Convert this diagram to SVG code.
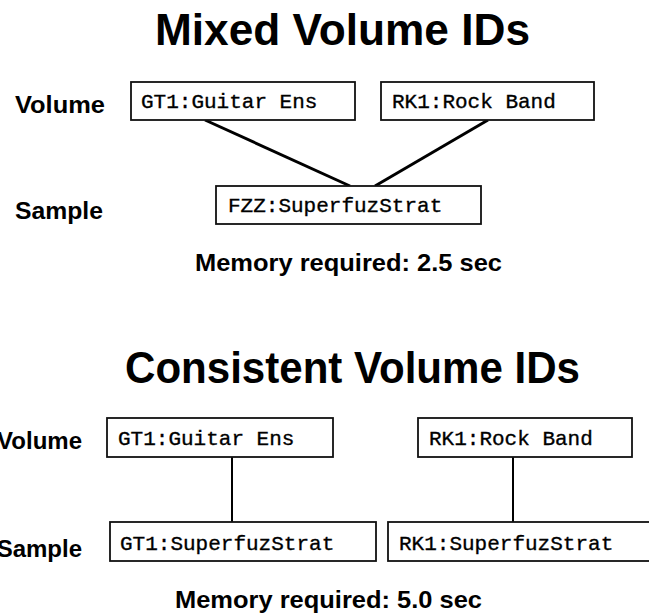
<svg xmlns="http://www.w3.org/2000/svg" width="649" height="616" viewBox="0 0 649 616">
<style>
.title{font-family:"Liberation Sans",Arial,sans-serif;font-weight:bold;font-size:44px;fill:#000}
.lbl{font-family:"Liberation Sans",Arial,sans-serif;font-weight:bold;font-size:24px;fill:#000}
.box{fill:#fff;stroke:#111;stroke-width:1.8}
.bt{font-family:"Liberation Mono","Courier New",monospace;font-size:21px;fill:#000;stroke:#000;stroke-width:0.35}
.con{stroke:#000;fill:none}
</style>
<rect width="649" height="616" fill="#fff"/>
<text class="title" x="155" y="45" textLength="375" lengthAdjust="spacingAndGlyphs">Mixed Volume IDs</text>
<text class="lbl" x="15" y="113" textLength="90" lengthAdjust="spacingAndGlyphs">Volume</text>
<text class="lbl" x="15" y="219" textLength="88" lengthAdjust="spacingAndGlyphs">Sample</text>
<g id="connectors">
<line class="con" x1="205" y1="120" x2="350" y2="186" stroke-width="3"/>
<line class="con" x1="488" y1="120" x2="375" y2="186" stroke-width="3"/>
<line class="con" x1="232" y1="457" x2="232" y2="522" stroke-width="2"/>
<line class="con" x1="513" y1="457" x2="513" y2="522" stroke-width="2"/>
</g>
<g id="m-gt1">
<rect class="box" x="131" y="82" width="224" height="38"/>
<text class="bt" x="141" y="108">GT1:Guitar Ens</text>
</g>
<g id="m-rk1">
<rect class="box" x="381" y="82" width="213" height="38"/>
<text class="bt" x="392" y="108">RK1:Rock Band</text>
</g>
<g id="m-fzz">
<rect class="box" x="216" y="186" width="265" height="38"/>
<text class="bt" x="228" y="212">FZZ:SuperfuzStrat</text>
</g>
<text class="lbl" x="195" y="271" textLength="307" lengthAdjust="spacingAndGlyphs">Memory required: 2.5 sec</text>
<text class="title" x="125" y="383" textLength="455" lengthAdjust="spacingAndGlyphs">Consistent Volume IDs</text>
<text class="lbl" x="82" y="449" text-anchor="end">Volume</text>
<text class="lbl" x="82" y="557" text-anchor="end">Sample</text>
<g id="c-gt1">
<rect class="box" x="107" y="418" width="226" height="39"/>
<text class="bt" x="118" y="445">GT1:Guitar Ens</text>
</g>
<g id="c-rk1">
<rect class="box" x="418" y="418" width="214" height="39"/>
<text class="bt" x="429" y="445">RK1:Rock Band</text>
</g>
<g id="c-gt1-sample">
<rect class="box" x="110" y="522" width="266" height="39"/>
<text class="bt" x="120" y="550">GT1:SuperfuzStrat</text>
</g>
<g id="c-rk1-sample">
<rect class="box" x="388" y="522" width="266" height="39"/>
<text class="bt" x="399" y="550">RK1:SuperfuzStrat</text>
</g>
<text class="lbl" x="175" y="608" textLength="307" lengthAdjust="spacingAndGlyphs">Memory required: 5.0 sec</text>
</svg>
